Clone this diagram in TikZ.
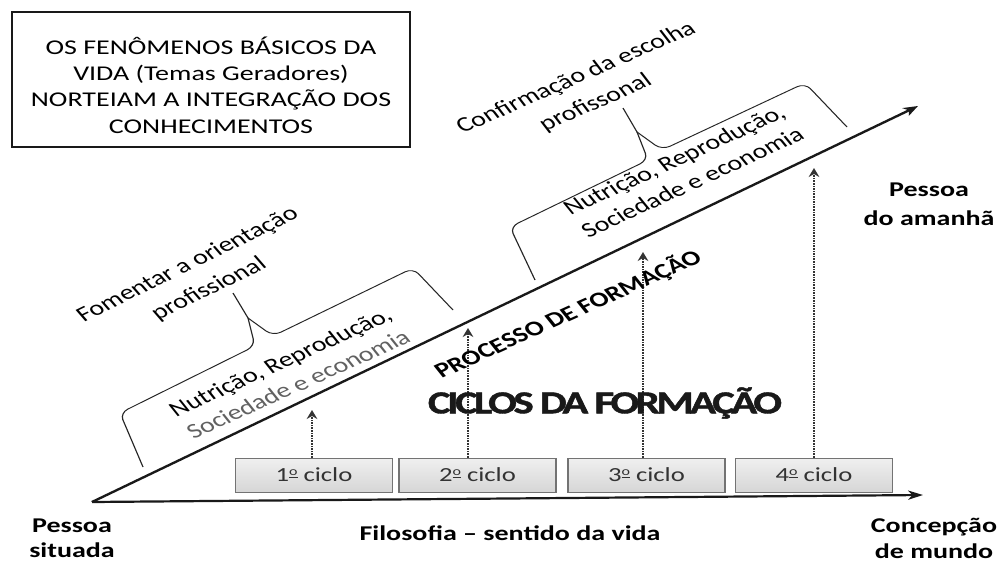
\documentclass[tikz,border=0pt]{standalone}
\usepackage{fontspec}
\setmainfont{Carlito}
\newfontfamily\cicfont{Carlito}[LetterSpace=-8,BoldFeatures={FakeBold=1.2}]
\usetikzlibrary{arrows.meta}
\newcommand\ordm{\raisebox{0.62ex}{\fontsize{12}{12}\selectfont\underline{o}}}
\tikzset{
  axisline/.style={line width=2.2pt, black!90, -{Stealth[length=11pt,width=9pt,inset=3pt]}},
  dotarrow/.style={densely dotted, line width=1.6pt, black!80, -{Stealth[length=9pt,width=8pt,inset=3pt]}},
  bracestroke/.style={line width=0.9pt, black!85, rounded corners=7pt},
  txt/.style={font=\fontsize{21}{26}\selectfont, align=center, inner sep=0pt},
  btxt/.style={font=\fontsize{21}{26}\selectfont\bfseries, align=center, inner sep=0pt},
  cycbox/.style={draw=black!55, line width=0.9pt, top color=black!6, bottom color=black!16, minimum width=117.75pt, minimum height=34pt, inner sep=0pt, font=\fontsize{20}{24}\selectfont, text=black!80},
}
\begin{document}
\begin{tikzpicture}
\useasboundingbox (0pt,0pt) rectangle (999pt,-562pt);
\fill[white] (0pt,0pt) rectangle (999pt,-562pt);
\begin{scope}[transform canvas={xscale=1.333333}, x=0.75pt, y=-1pt]
  % title box
  \node[draw=black!90, line width=1.8pt, minimum width=298.5pt, minimum height=135pt, inner sep=0pt] (titlebox) at (211,79.5) {};
  \node[txt, font=\fontsize{21}{26.3}\selectfont] (titletext) at (211,85) {OS FENÔMENOS BÁSICOS DA\\VIDA (Temas Geradores)\\NORTEIAM A INTEGRAÇÃO DOS\\CONHECIMENTOS};

  % axes
  \coordinate (O) at (92,502);
  \coordinate (Dtip) at (918,106);
  \coordinate (Htip) at (923,495);
  \draw[axisline] (O) -- (Dtip);
  \draw[axisline] (O) -- (Htip);

  % cycle boxes
  \node[cycbox] (c1) at (314,475) {1\ordm{} ciclo};
  \node[cycbox] (c2) at (477.5,475) {2\ordm{} ciclo};
  \node[cycbox] (c3) at (646.5,475) {3\ordm{} ciclo};
  \node[cycbox] (c4) at (814,475) {4\ordm{} ciclo};

  % dotted arrows
  \coordinate (t1) at (312,410);
  \coordinate (t2) at (468,328);
  \coordinate (t3) at (643,252);
  \coordinate (t4) at (814,168);
  \draw[dotarrow] (c1.north -| t1) -- (t1);
  \draw[dotarrow] (c2.north -| t2) -- (t2);
  \draw[dotarrow] (c3.north -| t3) -- (t3);
  \draw[dotarrow] (c4.north -| t4) -- (t4);

  % lower brace
  \draw[bracestroke] (143,467) -- (120,413) -- (255,346) -- (248,318);
  \draw[bracestroke] (248,318) -- (273,336) -- (413,268) -- (453,310);
  \draw[line width=0.9pt, black!85] (248,318) -- (233,293);

  % upper brace
  \draw[bracestroke] (535,280) -- (510,227) -- (648,160) -- (637,132);
  \draw[bracestroke] (637,132) -- (662,150) -- (805,83) -- (847,127);
  \draw[line width=0.9pt, black!85] (637,132) -- (623,108);

  % rotated texts
  \node[txt, rotate=33, font=\fontsize{21}{29}\selectfont] (fom) at (198.5,277) {Fomentar a orientação\\profissional};
  \node[txt, rotate=30, font=\fontsize{21}{29}\selectfont] (conf) at (586,90.5) {Confirmação da escolha\\profissonal};
  \node[txt, rotate=31] (nut1) at (289,373) {Nutrição, Reprodução,\\\textcolor{black!62}{Sociedade e economia}};
  \node[txt, rotate=31.5] (nut2) at (683,171) {Nutrição, Reprodução,\\Sociedade e economia};
  \node[btxt, rotate=31] (proc) at (568,314) {PROCESSO DE FORMAÇÃO};

  % horizontal labels
  \node[inner sep=0pt, font=\cicfont\bfseries\fontsize{32}{36}\selectfont, text=black!90] (ciclos) at (605,403) {CICLOS DA FORMAÇÃO};
  \node[btxt, font=\fontsize{21}{29}\selectfont\bfseries] (amanha) at (929,204) {Pessoa\\do amanhã};
  \node[btxt, font=\fontsize{21}{25}\selectfont\bfseries] (situada) at (72,538.5) {Pessoa\\situada};
  \node[btxt, font=\fontsize{21}{26}\selectfont\bfseries] (mundo) at (934,538) {Concepção\\de mundo};
  \node[btxt] (filo) at (510,533) {Filosofia – sentido da vida};
\end{scope}
\end{tikzpicture}
\end{document}
